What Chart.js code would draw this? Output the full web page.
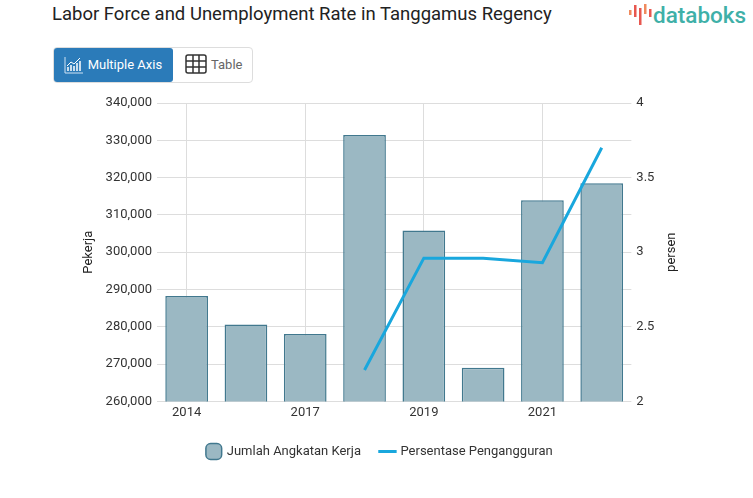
<!DOCTYPE html>
<html>
<head>
<meta charset="utf-8">
<script src="https://cdn.jsdelivr.net/npm/chart.js@4"></script>
<style>
  body { margin: 0; background: #fff; font-family: Roboto, sans-serif; }
  #title { position: absolute; left: 52px; top: 3px; font-size: 18.5px; color: #222; }
  #logo { position: absolute; left: 628px; top: 2px; font-size: 22.5px; color: #3fb0a8; font-weight: 500; }
  #logo svg { vertical-align: -3px; margin-right: 1px; }
  #btns { position: absolute; left: 53px; top: 47px; width: 198px; height: 34px; border: 1px solid #ddd; border-radius: 4px; }
  #b1 { position: absolute; left: 0; top: 0; width: 119px; height: 34px; background: #2b7bb9; border-radius: 3px; color: #fff; font-size: 13px; line-height: 34px; }
  #b2 { position: absolute; left: 131px; top: 0; height: 34px; color: #666; font-size: 13px; line-height: 34px; }
  #b1 svg, #b2 svg { vertical-align: -5px; margin-right: 4px; }
  #wrap { position: absolute; left: 0; top: 88px; width: 753px; height: 380px; }
</style>
</head>
<body>
<div id="title">Labor Force and Unemployment Rate in Tanggamus Regency</div>
<div id="logo"><svg width="24" height="24" viewBox="0 0 24 24">
  <rect x="1" y="8" width="2.5" height="5" fill="#f08a5d"/>
  <rect x="6" y="3" width="2.5" height="12" fill="#e8574f"/>
  <rect x="11" y="6" width="2.5" height="17" fill="#e8574f"/>
  <rect x="16" y="2" width="2.5" height="10" fill="#f08a5d"/>
  <rect x="21" y="7" width="2.5" height="8" fill="#e8574f"/>
</svg>databoks</div>
<div id="btns">
  <div id="b1">&nbsp;&nbsp;&nbsp;<svg width="20" height="18" viewBox="0 0 20 18"><path d="M1 1v16h18" stroke="#cfe3f3" fill="none" stroke-width="1"/><path d="M4 15v-4M7 15v-6M10 15v-5M13 15v-8M16 15v-10" stroke="#fff" stroke-width="1.5"/><path d="M3 10l4-4 3 2 6-6" stroke="#fff" fill="none" stroke-width="1"/></svg>Multiple Axis</div>
  <div id="b2"><svg width="22" height="20" viewBox="0 0 22 20"><rect x="1" y="1" width="20" height="18" rx="2" fill="none" stroke="#333" stroke-width="1.5"/><path d="M1 7h20M1 13h20M8 1v18M14 1v18" stroke="#333" stroke-width="1.5"/></svg>Table</div>
</div>
<div id="wrap"><canvas id="chart"></canvas></div>
<script>
// years on the x axis
const years = ['2014', '2015', '2017', '2018', '2019', '2020', '2021', '2022'];
// Jumlah Angkatan Kerja (left axis)
const angkatanKerja = [288270, 280600, 278070, 331400, 305800, 269000, 313960, 318500];
// Persentase Pengangguran (right axis), no data before 2018
const pengangguran = [null, null, null, 2.21, 2.96, 2.96, 2.93, 3.70];

const data = {
  labels: years,
  datasets: [{
    type: 'bar',
    label: 'Jumlah Angkatan Kerja',
    data: angkatanKerja,
    backgroundColor: '#9bb8c3',
    borderColor: '#41788e',
    borderWidth: 1.5,
    pointStyle: 'rectRounded',
    yAxisID: 'y',
    order: 1
  }, {
    type: 'line',
    label: 'Persentase Pengangguran',
    data: pengangguran,
    borderColor: '#19a7dd',
    backgroundColor: '#19a7dd',
    borderWidth: 3,
    pointRadius: 0,
    pointStyle: 'line',
    tension: 0,
    yAxisID: 'y1',
    order: 0
  }]
};

const tickFont = { family: 'Roboto', size: 13 };

// right axis title reads bottom-to-top like the left one
const rightTitle = {
  id: 'rightTitle',
  afterDraw(c) {
    const s = c.scales.y1;
    const ctx = c.ctx;
    ctx.save();
    ctx.translate(s.right - 11, (s.top + s.bottom) / 2);
    ctx.rotate(-Math.PI / 2);
    ctx.font = '13px Roboto';
    ctx.fillStyle = '#222';
    ctx.textAlign = 'center';
    ctx.textBaseline = 'middle';
    ctx.fillText('persen', 0, 0);
    ctx.restore();
  }
};

const config = {
  data,
  plugins: [rightTitle],
  options: {
    responsive: true,
    maintainAspectRatio: false,
    animation: false,
    layout: { padding: { left: 77, right: 70, top: 15, bottom: 0 } },
    plugins: {
      tooltip: { enabled: false },
      legend: {
        position: 'bottom',
        labels: {
          usePointStyle: true,
          boxWidth: 17,
          boxHeight: 17,
          padding: 20,
          color: '#333',
          font: { family: 'Roboto', size: 13 },
          sort: (a, b) => a.datasetIndex - b.datasetIndex
        }
      }
    },
    scales: {
      x: {
        grid: { offset: false, color: '#ddd', drawTicks: false },
        border: { display: false },
        ticks: { maxTicksLimit: 4, maxRotation: 0, color: '#333', font: tickFont, padding: 4 }
      },
      y: {
        position: 'left',
        min: 260000,
        max: 340000,
        grid: { color: '#ddd', drawTicks: false },
        border: { display: false },
        ticks: { stepSize: 10000, color: '#333', font: tickFont, padding: 5,
          callback: v => v.toLocaleString('en-US') },
        title: { display: true, text: 'Pekerja', color: '#222', font: { family: 'Roboto', size: 13 } }
      },
      y1: {
        position: 'right',
        min: 2,
        max: 4,
        grid: { drawOnChartArea: false, drawTicks: false },
        border: { display: false },
        ticks: { stepSize: 0.5, color: '#333', font: tickFont, padding: 5,
          callback: v => String(v) },
        title: { display: true, text: 'persen', color: 'rgba(0,0,0,0)', font: { family: 'Roboto', size: 13 } }
      }
    }
  }
};

const chart = new Chart(document.getElementById('chart'), config);
</script>
</body>
</html>
